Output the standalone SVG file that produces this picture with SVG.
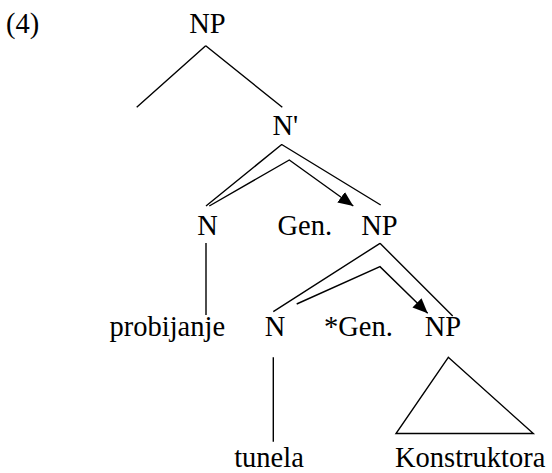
<svg xmlns="http://www.w3.org/2000/svg" width="552" height="473" viewBox="0 0 552 473">
<style>
.m { text-anchor: middle; }
.e { stroke: #000; stroke-width: 1.4; fill: none; }
</style>
<defs>
<marker id="ah" markerUnits="userSpaceOnUse" markerWidth="16" markerHeight="14" refX="15" refY="6.5" orient="auto">
<path d="M0,0 L15,6.5 L0,13 z" fill="#000"/>
</marker>
</defs>
<rect width="552" height="473" fill="#fff"/>
<g id="connectors">
<path class="e" d="M205.7,45.7 L136.7,107.3 M205.7,45.7 L282.3,107.3"/>
<path class="e" d="M281.7,144.5 L206,206 M281.7,144.5 L380.7,205"/>
<path class="e" d="M209.3,206 L289.3,160 L353.3,206" marker-end="url(#ah)"/>
<path class="e" d="M206,243 L206,315"/>
<path class="e" d="M380,243.3 L273.3,311.7 M380,243.3 L452.7,316"/>
<path class="e" d="M296.7,304 L380,266.7 L427.7,313.3" marker-end="url(#ah)"/>
<path class="e" d="M273.3,357.3 L273.3,441.7"/>
<path class="e" d="M448.3,357.3 L396,433.5 L533.3,433.5 Z"/>
</g>
<g font-family="Liberation Serif, DejaVu Serif, serif" font-size="28.5" fill="#000">
<text id="label" x="6" y="33">(4)</text>
<g id="np1"><text class="m" x="207.5" y="33">NP</text></g>
<g id="nbar"><text x="272.5" y="135">N'</text></g>
<g id="n1"><text class="m" x="207.5" y="235">N</text></g>
<g id="gen1"><text x="277.5" y="235">Gen.</text></g>
<g id="np2"><text class="m" x="379.5" y="235">NP</text></g>
<g id="probijanje"><text x="109.5" y="336">probijanje</text></g>
<g id="n2"><text class="m" x="275" y="336">N</text></g>
<g id="gen2"><text x="324" y="336">*Gen.</text></g>
<g id="np3"><text class="m" x="443" y="336">NP</text></g>
<g id="tunela"><text class="m" x="269" y="467">tunela</text></g>
<g id="konstruktora"><text x="395" y="467">Konstruktora</text></g>
</g>
</svg>
